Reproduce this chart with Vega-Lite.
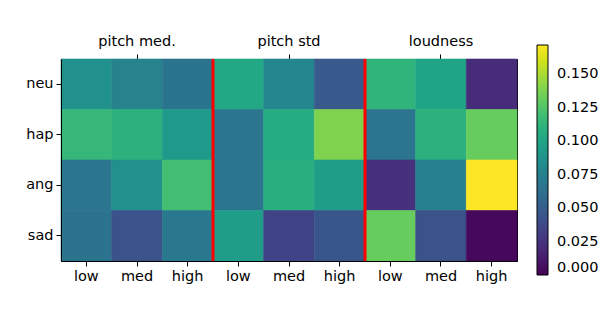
{
  "$schema": "https://vega.github.io/schema/vega-lite/v6.json",
  "autosize": "none",
  "width": 456,
  "height": 202,
  "padding": {"left": 61, "top": 59, "right": 83, "bottom": 49},
  "background": "white",
  "config": {
    "view": {"stroke": "black", "strokeWidth": 1},
    "axis": {
      "labelFont": "DejaVu Sans",
      "labelFontSize": 14.5,
      "labelColor": "black",
      "tickColor": "black",
      "domainColor": "black",
      "tickSize": 5,
      "labelPadding": 3,
      "grid": false,
      "title": null
    },
    "legend": {"labelFont": "DejaVu Sans", "labelFontSize": 14.5, "labelColor": "black"}
  },
  "layer": [
    {
      "data": {
        "values": [
          {"emo": "neu", "group": "pitch med.", "level": "low", "v": 0.086},
          {"emo": "neu", "group": "pitch med.", "level": "med", "v": 0.076},
          {"emo": "neu", "group": "pitch med.", "level": "high", "v": 0.066},
          {"emo": "neu", "group": "pitch std", "level": "low", "v": 0.103},
          {"emo": "neu", "group": "pitch std", "level": "med", "v": 0.079},
          {"emo": "neu", "group": "pitch std", "level": "high", "v": 0.048},
          {"emo": "neu", "group": "loudness", "level": "low", "v": 0.112},
          {"emo": "neu", "group": "loudness", "level": "med", "v": 0.1},
          {"emo": "neu", "group": "loudness", "level": "high", "v": 0.021},
          {"emo": "hap", "group": "pitch med.", "level": "low", "v": 0.115},
          {"emo": "hap", "group": "pitch med.", "level": "med", "v": 0.11},
          {"emo": "hap", "group": "pitch med.", "level": "high", "v": 0.093},
          {"emo": "hap", "group": "pitch std", "level": "low", "v": 0.067},
          {"emo": "hap", "group": "pitch std", "level": "med", "v": 0.106},
          {"emo": "hap", "group": "pitch std", "level": "high", "v": 0.139},
          {"emo": "hap", "group": "loudness", "level": "low", "v": 0.067},
          {"emo": "hap", "group": "loudness", "level": "med", "v": 0.11},
          {"emo": "hap", "group": "loudness", "level": "high", "v": 0.132},
          {"emo": "ang", "group": "pitch med.", "level": "low", "v": 0.067},
          {"emo": "ang", "group": "pitch med.", "level": "med", "v": 0.086},
          {"emo": "ang", "group": "pitch med.", "level": "high", "v": 0.12},
          {"emo": "ang", "group": "pitch std", "level": "low", "v": 0.067},
          {"emo": "ang", "group": "pitch std", "level": "med", "v": 0.108},
          {"emo": "ang", "group": "pitch std", "level": "high", "v": 0.095},
          {"emo": "ang", "group": "loudness", "level": "low", "v": 0.024},
          {"emo": "ang", "group": "loudness", "level": "med", "v": 0.074},
          {"emo": "ang", "group": "loudness", "level": "high", "v": 0.172},
          {"emo": "sad", "group": "pitch med.", "level": "low", "v": 0.065},
          {"emo": "sad", "group": "pitch med.", "level": "med", "v": 0.043},
          {"emo": "sad", "group": "pitch med.", "level": "high", "v": 0.069},
          {"emo": "sad", "group": "pitch std", "level": "low", "v": 0.095},
          {"emo": "sad", "group": "pitch std", "level": "med", "v": 0.034},
          {"emo": "sad", "group": "pitch std", "level": "high", "v": 0.046},
          {"emo": "sad", "group": "loudness", "level": "low", "v": 0.132},
          {"emo": "sad", "group": "loudness", "level": "med", "v": 0.043},
          {"emo": "sad", "group": "loudness", "level": "high", "v": 0.003}
        ]
      },
      "transform": [{"calculate": "datum.group + '|' + datum.level", "as": "key"}],
      "mark": {"type": "rect", "strokeWidth": 0.6, "stroke": {"expr": "scale('color', datum.v)"}},
      "encoding": {
        "x": {
          "field": "key",
          "type": "nominal",
          "scale": {
            "domain": ["pitch med.|low", "pitch med.|med", "pitch med.|high", "pitch std|low", "pitch std|med", "pitch std|high", "loudness|low", "loudness|med", "loudness|high"],
            "paddingInner": 0,
            "paddingOuter": 0
          },
          "axis": {"orient": "bottom", "labelAngle": 0, "labelExpr": "split(datum.value, '|')[1]"}
        },
        "y": {
          "field": "emo",
          "type": "nominal",
          "scale": {"domain": ["neu", "hap", "ang", "sad"], "paddingInner": 0, "paddingOuter": 0},
          "axis": {"orient": "left"}
        },
        "color": {
          "field": "v",
          "type": "quantitative",
          "scale": {"scheme": "viridis", "domain": [0, 0.172]},
          "legend": {
            "type": "gradient",
            "title": null,
            "orient": "none",
            "legendX": 476,
            "legendY": -14,
            "direction": "vertical",
            "gradientLength": 230,
            "gradientThickness": 11,
            "gradientStrokeColor": "black",
            "gradientStrokeWidth": 1,
            "values": [0, 0.025, 0.05, 0.075, 0.1, 0.125, 0.15],
            "format": ".3f",
            "labelOffset": 9,
            "labelBaseline": "middle",
            "labelOverlap": false
          }
        }
      }
    },
    {
      "data": {
        "values": [
          {"key": "pitch std|low"},
          {"key": "loudness|low"}
        ]
      },
      "mark": {"type": "rule", "color": "#ff0000", "strokeWidth": 3},
      "encoding": {
        "x": {
          "field": "key",
          "type": "nominal",
          "bandPosition": 0,
          "axis": {
            "orient": "top",
            "labelAngle": 0,
            "labelPadding": 6,
            "values": ["pitch med.|med", "pitch std|med", "loudness|med"],
            "labelExpr": "split(datum.value, '|')[0]"
          }
        }
      }
    }
  ],
  "resolve": {"axis": {"x": "independent"}}
}
